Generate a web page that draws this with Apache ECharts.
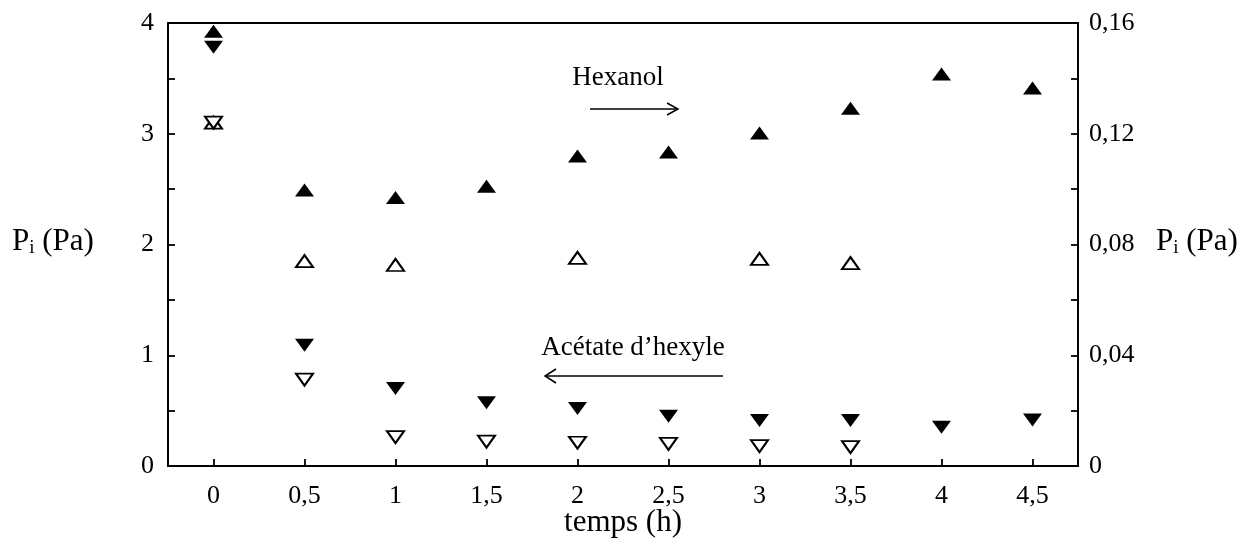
<!DOCTYPE html>
<html>
<head>
<meta charset="utf-8">
<script src="https://cdn.jsdelivr.net/npm/echarts@6/dist/echarts.min.js"></script>
<style>
html,body{margin:0;padding:0;background:#fff;}
#chart{width:1245px;height:549px;}
</style>
</head>
<body>
<div id="chart"></div>
<script>
// Time (h)
const timesAll = [0, 0.5, 1, 1.5, 2, 2.5, 3, 3.5, 4, 4.5];
const timesOpen = [0, 0.5, 1, 1.5, 2, 2.5, 3, 3.5];
const timesHexOpen = [0, 0.5, 1, 2, 3, 3.5];
const xTicks = [0, 0.5, 1, 1.5, 2, 2.5, 3, 3.5, 4, 4.5];

// Hexanol (right axis, Pa) - filled up triangles
const hexanolFilled = [0.157, 0.0997, 0.097, 0.101, 0.112, 0.1134, 0.1203, 0.1292, 0.1416, 0.1365];
// Hexanol (right axis, Pa) - open up triangles
const hexanolOpen = [0.124, 0.074, 0.0726, 0.0752, 0.0748, 0.0733];
// Acétate d'hexyle (left axis, Pa) - filled down triangles
const acetateFilled = [3.78, 1.09, 0.70, 0.57, 0.52, 0.45, 0.41, 0.41, 0.35, 0.415];
// Acétate d'hexyle (left axis, Pa) - open down triangles
const acetateOpen = [3.10, 0.78, 0.26, 0.22, 0.21, 0.20, 0.18, 0.17];

const FONT = '"Liberation Serif", "DejaVu Serif", serif';
const fmt = v => String(v).replace('.', ',');

function pairs(xs, ys){ return xs.map((x,i)=>[x, ys[i]]); }

const chart = echarts.init(document.getElementById('chart'));
const axisLineStyle = {color:'#000', width:2};
const tickStyle = {color:'#000', width:1.8};
const titleRich = {
  a:{fontFamily:FONT, fontSize:31, fill:'#000'},
  s:{fontFamily:FONT, fontSize:19, fill:'#000', padding:[14,0,0,0]}
};
const option = {
  backgroundColor:'#fff',
  animation:false,
  grid:{left:168, right:167, top:23, bottom:83, show:false},
  xAxis:[{
    type:'value', min:-0.25, max:4.75, position:'bottom',
    axisLine:{show:true, onZero:false, lineStyle:axisLineStyle},
    axisTick:{show:true, inside:true, length:7, lineStyle:tickStyle, customValues:xTicks},
    axisLabel:{show:true, customValues:xTicks, formatter:v=>fmt(v), color:'#000', fontFamily:FONT, fontSize:26, margin:17},
    splitLine:{show:false}
  },{
    type:'value', min:-0.25, max:4.75, position:'top',
    axisLine:{show:true, onZero:false, lineStyle:axisLineStyle},
    axisTick:{show:false}, axisLabel:{show:false}, splitLine:{show:false}
  }],
  yAxis:[{
    type:'value', min:0, max:4, interval:0.5, position:'left',
    axisLine:{show:true, onZero:false, lineStyle:axisLineStyle},
    axisTick:{show:true, inside:true, length:7, lineStyle:tickStyle},
    axisLabel:{color:'#000', fontFamily:FONT, fontSize:26, margin:14,
      formatter:v=> (Math.abs(v-Math.round(v))<1e-9 ? fmt(v) : '')},
    splitLine:{show:false}
  },{
    type:'value', min:0, max:0.16, interval:0.02, position:'right',
    axisLine:{show:true, onZero:false, lineStyle:axisLineStyle},
    axisTick:{show:true, inside:true, length:7, lineStyle:tickStyle},
    axisLabel:{color:'#000', fontFamily:FONT, fontSize:26, margin:11,
      formatter:v=>{ const k=Math.round(v*100); if(k%4!==0) return ''; return k===0?'0':fmt((k/100).toFixed(2)); }},
    splitLine:{show:false}
  }],
  series:[
    {name:'Hexanol (plein)', type:'scatter', xAxisIndex:0, yAxisIndex:1, data:pairs(timesAll, hexanolFilled),
     symbol:'triangle', symbolSize:[19,13], itemStyle:{color:'#000', opacity:1}},
    {name:'Hexanol (vide)', type:'scatter', xAxisIndex:0, yAxisIndex:1, data:pairs(timesHexOpen, hexanolOpen),
     symbol:'triangle', symbolSize:[17,12], itemStyle:{color:'#fff', borderColor:'#000', borderWidth:2, opacity:1}},
    {name:"Acétate d'hexyle (plein)", type:'scatter', xAxisIndex:0, yAxisIndex:0, data:pairs(timesAll, acetateFilled),
     symbol:'triangle', symbolRotate:180, symbolSize:[19,13], itemStyle:{color:'#000', opacity:1}},
    {name:"Acétate d'hexyle (vide)", type:'scatter', xAxisIndex:0, yAxisIndex:0, data:pairs(timesOpen, acetateOpen),
     symbol:'triangle', symbolRotate:180, symbolSize:[17,12], itemStyle:{color:'#fff', borderColor:'#000', borderWidth:2, opacity:1}}
  ],
  graphic:[
    {type:'text', left:12, top:226, style:{rich:titleRich, text:'{a|P}{s|i}{a| (Pa)}'}},
    {type:'text', left:1156, top:226, style:{rich:titleRich, text:'{a|P}{s|i}{a| (Pa)}'}},
    {type:'text', x:623, y:523, style:{text:'temps (h)', fontFamily:FONT, fontSize:31, fill:'#000', align:'center', verticalAlign:'middle'}},
    {type:'text', x:618, y:78, style:{text:'Hexanol', fontFamily:FONT, fontSize:27, fill:'#000', align:'center', verticalAlign:'middle'}},
    {type:'line', shape:{x1:590, y1:109, x2:678, y2:109}, style:{stroke:'#000', lineWidth:1.5}},
    {type:'polyline', shape:{points:[[667,103],[678,109],[667,115]]}, style:{stroke:'#000', lineWidth:1.5, fill:null}},
    {type:'text', x:633, y:348, style:{text:'Acétate d\u2019hexyle', fontFamily:FONT, fontSize:27, fill:'#000', align:'center', verticalAlign:'middle'}},
    {type:'line', shape:{x1:545, y1:376, x2:723, y2:376}, style:{stroke:'#000', lineWidth:1.5}},
    {type:'polyline', shape:{points:[[556,369],[545,376],[556,383]]}, style:{stroke:'#000', lineWidth:1.5, fill:null}}
  ]
};
chart.setOption(option);
</script>
</body>
</html>
